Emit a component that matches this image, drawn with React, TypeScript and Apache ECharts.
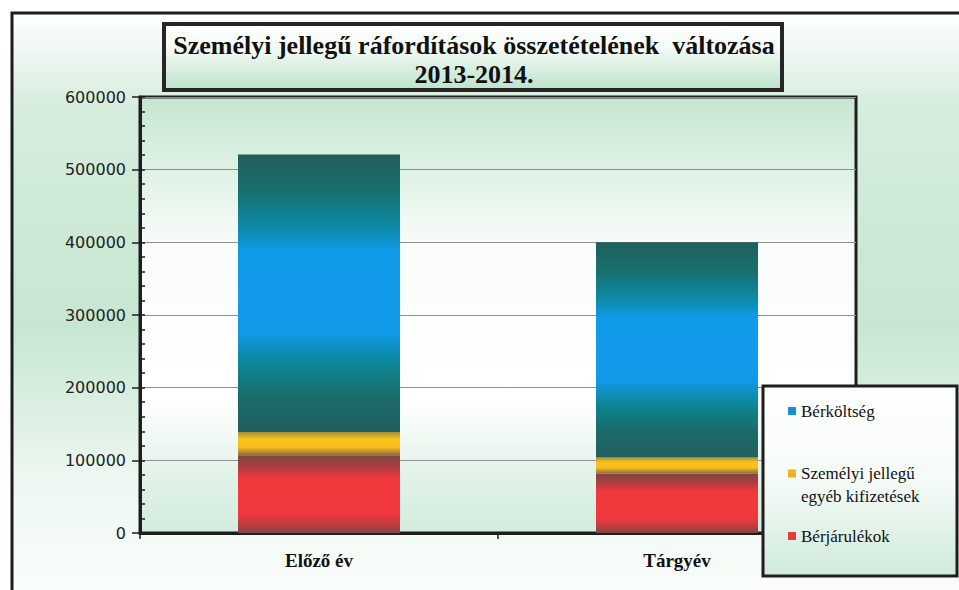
import React, { useEffect, useRef } from 'react';
import * as echarts from 'echarts';

// ---- data ----
const categories = ['Előző év', 'Tárgyév'];
const berjarulekok = [107000, 82000];
const egyebKifizetesek = [32000, 22000];
const berkoltseg = [382000, 296000];
const seriesNames = ['Bérjárulékok', 'Személyi jellegű egyéb kifizetések', 'Bérköltség'];
const titleText = 'Személyi jellegű ráfordítások összetételének  változása\n2013-2014.';
const yMin = 0;
const yMax = 600000;
const yInterval = 100000;
const yMinorInterval = 20000;

const grad = (stops: [number, string][]) =>
  new echarts.graphic.LinearGradient(
    0, 0, 0, 1,
    stops.map(([offset, color]) => ({ offset, color }))
  );

export default function App() {
  const ref = useRef<HTMLDivElement>(null);

  useEffect(() => {
    if (!ref.current) return;
    const chart = echarts.init(ref.current, undefined, { renderer: 'svg' });

    const blueGrad = grad([
      [0, '#225e5a'],
      [0.14, '#177170'],
      [0.26, '#0d8aa6'],
      [0.35, '#109be9'],
      [0.64, '#119aea'],
      [0.76, '#0d8592'],
      [0.88, '#1b6a69'],
      [1, '#205f5d'],
    ]);
    const yellowGrad = grad([
      [0, '#a38f3a'],
      [0.3, '#f8c21b'],
      [0.65, '#f7be1d'],
      [1, '#8e6c3c'],
    ]);
    const redGrad = grad([
      [0, '#7c4644'],
      [0.16, '#b13d3e'],
      [0.3, '#f0383d'],
      [0.74, '#f2383e'],
      [0.9, '#bb3d3f'],
      [1, '#7a4746'],
    ]);
    const plotGrad = grad([
      [0, '#c6e6d0'],
      [0.15, '#dcf0e3'],
      [0.35, '#fafdfb'],
      [0.7, '#ffffff'],
      [0.85, '#e4f3ea'],
      [1, '#d3ecde'],
    ]);
    const frameGrad = grad([
      [0, '#ffffff'],
      [0.15, '#d6eddd'],
      [0.5, '#c7e6d1'],
      [0.75, '#ecf7f0'],
      [1, '#ffffff'],
    ]);
    const titleGrad = grad([
      [0, '#ffffff'],
      [0.35, '#f5fbf7'],
      [1, '#bde2ca'],
    ]);
    const legendGrad = grad([
      [0, '#ffffff'],
      [0.5, '#f5fbf7'],
      [1, '#cfeadb'],
    ]);

    const legendText = {
      fontFamily: 'Liberation Serif',
      fontSize: 17,
      color: '#111',
      lineHeight: 20,
    };

    chart.setOption({
      animation: false,
      backgroundColor: '#ffffff',
      title: {
        text: titleText,
        left: 474,
        top: 31,
        textAlign: 'center',
        padding: 0,
        textStyle: {
          fontFamily: 'Liberation Serif',
          fontWeight: 'bold',
          fontSize: 26,
          lineHeight: 29,
          color: '#111',
        },
      },
      graphic: [
        {
          type: 'rect',
          z: -100,
          shape: { x: 12, y: 13, width: 970, height: 620 },
          style: { fill: frameGrad, stroke: '#1d1d1d', lineWidth: 3 },
        },
        {
          type: 'rect',
          z: 5,
          shape: { x: 164, y: 24, width: 618, height: 66 },
          style: { fill: titleGrad, stroke: '#262626', lineWidth: 4 },
        },
        {
          type: 'rect',
          z: 3,
          shape: { x: 763, y: 386, width: 194, height: 190 },
          style: { fill: legendGrad, stroke: '#1e1e1e', lineWidth: 3 },
        },
      ],
      legend: [
        {
          data: [{ name: seriesNames[2], itemStyle: { color: '#1b8fd6' } }],
          left: 788,
          top: 401,
          orient: 'vertical',
          icon: 'rect',
          itemWidth: 8,
          itemHeight: 8,
          padding: 0,
          z: 6,
          textStyle: legendText,
        },
        {
          data: [{ name: seriesNames[1], itemStyle: { color: '#f2b41c' } }],
          left: 788,
          top: 439,
          orient: 'vertical',
          icon: 'rect',
          itemWidth: 8,
          itemHeight: 8,
          padding: 0,
          z: 6,
          formatter: () => ' \nSzemélyi jellegű\negyéb kifizetések',
          textStyle: { ...legendText, lineHeight: 23 },
        },
        {
          data: [{ name: seriesNames[0], itemStyle: { color: '#e53b3e' } }],
          left: 788,
          top: 526,
          orient: 'vertical',
          icon: 'rect',
          itemWidth: 8,
          itemHeight: 8,
          padding: 0,
          z: 6,
          textStyle: legendText,
        },
      ],
      grid: {
        left: 140,
        top: 97,
        width: 716,
        height: 436,
        show: true,
        backgroundColor: plotGrad,
        borderColor: '#1e1e1e',
        borderWidth: 3,
      },
      xAxis: {
        type: 'category',
        data: categories,
        axisLine: { show: true, lineStyle: { color: '#1e1e1e', width: 3 } },
        axisTick: { show: true, length: 6, lineStyle: { color: '#1e1e1e', width: 1.5 } },
        axisLabel: {
          margin: 18,
          fontFamily: 'Liberation Serif',
          fontWeight: 'bold',
          fontSize: 19,
          color: '#111',
        },
      },
      yAxis: [
        {
          type: 'value',
          min: yMin,
          max: yMax,
          interval: yInterval,
          axisLine: { show: true, lineStyle: { color: '#1e1e1e', width: 3 } },
          axisTick: { show: true, length: 8, lineStyle: { color: '#1e1e1e', width: 1.5 } },
          axisLabel: {
            margin: 14,
            fontFamily: 'DejaVu Sans',
            fontSize: 16,
            color: '#222',
            formatter: (v: number) => String(v),
          },
          splitLine: { show: true, lineStyle: { color: '#8f8f8f', width: 1 } },
        },
        {
          type: 'value',
          position: 'left',
          min: yMin,
          max: yMax,
          interval: yMinorInterval,
          axisLine: { show: false },
          axisTick: { show: true, inside: true, length: 5, lineStyle: { color: '#1e1e1e', width: 1.5 } },
          axisLabel: { show: false },
          splitLine: { show: false },
        },
      ],
      series: [
        {
          name: seriesNames[0],
          type: 'bar',
          stack: 'total',
          barWidth: 162,
          data: berjarulekok,
          itemStyle: { color: redGrad },
        },
        {
          name: seriesNames[1],
          type: 'bar',
          stack: 'total',
          barWidth: 162,
          data: egyebKifizetesek,
          itemStyle: { color: yellowGrad },
        },
        {
          name: seriesNames[2],
          type: 'bar',
          stack: 'total',
          barWidth: 162,
          data: berkoltseg,
          itemStyle: { color: blueGrad },
        },
      ],
    });

    return () => chart.dispose();
  }, []);

  return (
    <div
      ref={ref}
      style={{ position: 'fixed', left: 0, top: 0, width: '959px', height: '590px' }}
    />
  );
}
